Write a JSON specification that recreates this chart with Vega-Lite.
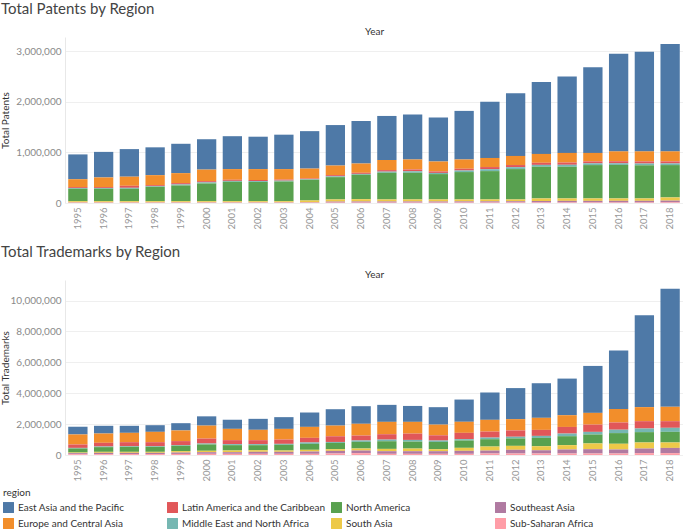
{
"$schema":"https://vega.github.io/schema/vega-lite/v6.json",
"padding":{"top":2,"left":0,"right":0,"bottom":0},
"background":"white",
"spacing":15,
"config":{
 "font":"Lato",
 "view":{"stroke":null},
 "axisX":{"domain":false,"ticks":false,"grid":false,"labelAngle":-90,"labelColor":"#999999","labelFontSize":9.5,"labelPadding":4,"titleFontSize":10,"titleFontWeight":"normal","titleColor":"#333333"},
 "axisY":{"domainColor":"#e8e8e8","ticks":false,"gridColor":"#efefef","labelColor":"#8a8a8a","labelFontSize":10,"labelPadding":4,"titleFontSize":10,"titleFontWeight":"normal","titleColor":"#333333","titleX":-55},
 "title":{"anchor":"start","frame":"group","fontSize":15,"fontWeight":"normal","color":"#444444","dx":-64,"offset":9},
 "legend":{"orient":"none","legendX":-62,"legendY":451,"direction":"horizontal","columns":4,"gridAlign":"all","columnPadding":5,"rowPadding":5,"symbolType":"square","symbolSize":120,"symbolStrokeWidth":0,"labelFontSize":10,"labelColor":"#333333","labelLimit":300,"titleFontSize":10,"titleFontWeight":"normal","titleColor":"#333333","titlePadding":4}
},
"datasets":{"d":[
{"year":"1995","region":"East Asia and the Pacific","patents":490000,"trademarks":500000},
{"year":"1995","region":"Europe and Central Asia","patents":156000,"trademarks":650000},
{"year":"1995","region":"Latin America and the Caribbean","patents":18000,"trademarks":220000},
{"year":"1995","region":"Middle East and North Africa","patents":15000,"trademarks":40000},
{"year":"1995","region":"North America","patents":246000,"trademarks":260000},
{"year":"1995","region":"South Asia","patents":23000,"trademarks":40000},
{"year":"1995","region":"Southeast Asia","patents":6000,"trademarks":70000},
{"year":"1995","region":"Sub-Saharan Africa","patents":6000,"trademarks":50000},
{"year":"1996","region":"East Asia and the Pacific","patents":505000,"trademarks":500000},
{"year":"1996","region":"Europe and Central Asia","patents":191000,"trademarks":600000},
{"year":"1996","region":"Latin America and the Caribbean","patents":18000,"trademarks":240000},
{"year":"1996","region":"Middle East and North Africa","patents":15000,"trademarks":40000},
{"year":"1996","region":"North America","patents":246000,"trademarks":305000},
{"year":"1996","region":"South Asia","patents":23000,"trademarks":65000},
{"year":"1996","region":"Southeast Asia","patents":6000,"trademarks":86000},
{"year":"1996","region":"Sub-Saharan Africa","patents":6000,"trademarks":54000},
{"year":"1997","region":"East Asia and the Pacific","patents":545000,"trademarks":455000},
{"year":"1997","region":"Europe and Central Asia","patents":180000,"trademarks":605000},
{"year":"1997","region":"Latin America and the Caribbean","patents":40000,"trademarks":260000},
{"year":"1997","region":"Middle East and North Africa","patents":19000,"trademarks":40000},
{"year":"1997","region":"North America","patents":246000,"trademarks":325000},
{"year":"1997","region":"South Asia","patents":23000,"trademarks":65000},
{"year":"1997","region":"Southeast Asia","patents":6000,"trademarks":80000},
{"year":"1997","region":"Sub-Saharan Africa","patents":6000,"trademarks":60000},
{"year":"1998","region":"East Asia and the Pacific","patents":550000,"trademarks":430000},
{"year":"1998","region":"Europe and Central Asia","patents":197000,"trademarks":670000},
{"year":"1998","region":"Latin America and the Caribbean","patents":20000,"trademarks":260000},
{"year":"1998","region":"Middle East and North Africa","patents":13000,"trademarks":40000},
{"year":"1998","region":"North America","patents":285000,"trademarks":325000},
{"year":"1998","region":"South Asia","patents":23000,"trademarks":65000},
{"year":"1998","region":"Southeast Asia","patents":6000,"trademarks":80000},
{"year":"1998","region":"Sub-Saharan Africa","patents":6000,"trademarks":60000},
{"year":"1999","region":"East Asia and the Pacific","patents":580000,"trademarks":470000},
{"year":"1999","region":"Europe and Central Asia","patents":197000,"trademarks":690000},
{"year":"1999","region":"Latin America and the Caribbean","patents":26000,"trademarks":260000},
{"year":"1999","region":"Middle East and North Africa","patents":20000,"trademarks":40000},
{"year":"1999","region":"North America","patents":312000,"trademarks":350000},
{"year":"1999","region":"South Asia","patents":22000,"trademarks":90000},
{"year":"1999","region":"Southeast Asia","patents":7000,"trademarks":90000},
{"year":"1999","region":"Sub-Saharan Africa","patents":6000,"trademarks":70000},
{"year":"2000","region":"East Asia and the Pacific","patents":600000,"trademarks":600000},
{"year":"2000","region":"Europe and Central Asia","patents":228000,"trademarks":840000},
{"year":"2000","region":"Latin America and the Caribbean","patents":24000,"trademarks":320000},
{"year":"2000","region":"Middle East and North Africa","patents":22000,"trademarks":60000},
{"year":"2000","region":"North America","patents":351000,"trademarks":410000},
{"year":"2000","region":"South Asia","patents":22000,"trademarks":90000},
{"year":"2000","region":"Southeast Asia","patents":7000,"trademarks":107000},
{"year":"2000","region":"Sub-Saharan Africa","patents":6000,"trademarks":76000},
{"year":"2001","region":"East Asia and the Pacific","patents":650000,"trademarks":590000},
{"year":"2001","region":"Europe and Central Asia","patents":211000,"trademarks":730000},
{"year":"2001","region":"Latin America and the Caribbean","patents":22000,"trademarks":260000},
{"year":"2001","region":"Middle East and North Africa","patents":18000,"trademarks":65000},
{"year":"2001","region":"North America","patents":384000,"trademarks":345000},
{"year":"2001","region":"South Asia","patents":22000,"trademarks":110000},
{"year":"2001","region":"Southeast Asia","patents":7000,"trademarks":107000},
{"year":"2001","region":"Sub-Saharan Africa","patents":6000,"trademarks":76000},
{"year":"2002","region":"East Asia and the Pacific","patents":640000,"trademarks":710000},
{"year":"2002","region":"Europe and Central Asia","patents":215000,"trademarks":670000},
{"year":"2002","region":"Latin America and the Caribbean","patents":22000,"trademarks":260000},
{"year":"2002","region":"Middle East and North Africa","patents":18000,"trademarks":65000},
{"year":"2002","region":"North America","patents":380000,"trademarks":325000},
{"year":"2002","region":"South Asia","patents":22000,"trademarks":105000},
{"year":"2002","region":"Southeast Asia","patents":7000,"trademarks":130000},
{"year":"2002","region":"Sub-Saharan Africa","patents":6000,"trademarks":76000},
{"year":"2003","region":"East Asia and the Pacific","patents":680000,"trademarks":760000},
{"year":"2003","region":"Europe and Central Asia","patents":207000,"trademarks":690000},
{"year":"2003","region":"Latin America and the Caribbean","patents":21000,"trademarks":280000},
{"year":"2003","region":"Middle East and North Africa","patents":17000,"trademarks":60000},
{"year":"2003","region":"North America","patents":390000,"trademarks":370000},
{"year":"2003","region":"South Asia","patents":22000,"trademarks":85000},
{"year":"2003","region":"Southeast Asia","patents":7000,"trademarks":130000},
{"year":"2003","region":"Sub-Saharan Africa","patents":6000,"trademarks":76000},
{"year":"2004","region":"East Asia and the Pacific","patents":740000,"trademarks":930000},
{"year":"2004","region":"Europe and Central Asia","patents":195000,"trademarks":710000},
{"year":"2004","region":"Latin America and the Caribbean","patents":14000,"trademarks":300000},
{"year":"2004","region":"Middle East and North Africa","patents":12000,"trademarks":90000},
{"year":"2004","region":"North America","patents":409000,"trademarks":385000},
{"year":"2004","region":"South Asia","patents":36000,"trademarks":110000},
{"year":"2004","region":"Southeast Asia","patents":8000,"trademarks":150000},
{"year":"2004","region":"Sub-Saharan Africa","patents":6000,"trademarks":76000},
{"year":"2005","region":"East Asia and the Pacific","patents":800000,"trademarks":1060000},
{"year":"2005","region":"Europe and Central Asia","patents":189000,"trademarks":690000},
{"year":"2005","region":"Latin America and the Caribbean","patents":24000,"trademarks":370000},
{"year":"2005","region":"Middle East and North Africa","patents":16000,"trademarks":60000},
{"year":"2005","region":"North America","patents":441000,"trademarks":410000},
{"year":"2005","region":"South Asia","patents":42000,"trademarks":107000},
{"year":"2005","region":"Southeast Asia","patents":20000,"trademarks":170000},
{"year":"2005","region":"Sub-Saharan Africa","patents":8000,"trademarks":97000},
{"year":"2006","region":"East Asia and the Pacific","patents":840000,"trademarks":1140000},
{"year":"2006","region":"Europe and Central Asia","patents":183000,"trademarks":760000},
{"year":"2006","region":"Latin America and the Caribbean","patents":22000,"trademarks":320000},
{"year":"2006","region":"Middle East and North Africa","patents":17000,"trademarks":90000},
{"year":"2006","region":"North America","patents":483000,"trademarks":430000},
{"year":"2006","region":"South Asia","patents":45000,"trademarks":130000},
{"year":"2006","region":"Southeast Asia","patents":22000,"trademarks":170000},
{"year":"2006","region":"Sub-Saharan Africa","patents":8000,"trademarks":120000},
{"year":"2007","region":"East Asia and the Pacific","patents":870000,"trademarks":1100000},
{"year":"2007","region":"Europe and Central Asia","patents":200000,"trademarks":800000},
{"year":"2007","region":"Latin America and the Caribbean","patents":30000,"trademarks":350000},
{"year":"2007","region":"Middle East and North Africa","patents":23000,"trademarks":105000},
{"year":"2007","region":"North America","patents":527000,"trademarks":495000},
{"year":"2007","region":"South Asia","patents":40000,"trademarks":150000},
{"year":"2007","region":"Southeast Asia","patents":22000,"trademarks":170000},
{"year":"2007","region":"Sub-Saharan Africa","patents":8000,"trademarks":76000},
{"year":"2008","region":"East Asia and the Pacific","patents":890000,"trademarks":1030000},
{"year":"2008","region":"Europe and Central Asia","patents":197000,"trademarks":760000},
{"year":"2008","region":"Latin America and the Caribbean","patents":36000,"trademarks":410000},
{"year":"2008","region":"Middle East and North Africa","patents":30000,"trademarks":110000},
{"year":"2008","region":"North America","patents":527000,"trademarks":450000},
{"year":"2008","region":"South Asia","patents":40000,"trademarks":170000},
{"year":"2008","region":"Southeast Asia","patents":22000,"trademarks":170000},
{"year":"2008","region":"Sub-Saharan Africa","patents":8000,"trademarks":76000},
{"year":"2009","region":"East Asia and the Pacific","patents":870000,"trademarks":1130000},
{"year":"2009","region":"Europe and Central Asia","patents":196000,"trademarks":690000},
{"year":"2009","region":"Latin America and the Caribbean","patents":30000,"trademarks":340000},
{"year":"2009","region":"Middle East and North Africa","patents":23000,"trademarks":90000},
{"year":"2009","region":"North America","patents":501000,"trademarks":470000},
{"year":"2009","region":"South Asia","patents":40000,"trademarks":130000},
{"year":"2009","region":"Southeast Asia","patents":22000,"trademarks":170000},
{"year":"2009","region":"Sub-Saharan Africa","patents":8000,"trademarks":76000},
{"year":"2010","region":"East Asia and the Pacific","patents":960000,"trademarks":1440000},
{"year":"2010","region":"Europe and Central Asia","patents":183000,"trademarks":715000},
{"year":"2010","region":"Latin America and the Caribbean","patents":35000,"trademarks":410000},
{"year":"2010","region":"Middle East and North Africa","patents":31000,"trademarks":85000},
{"year":"2010","region":"North America","patents":541000,"trademarks":476000},
{"year":"2010","region":"South Asia","patents":38000,"trademarks":194000},
{"year":"2010","region":"Southeast Asia","patents":23000,"trademarks":194000},
{"year":"2010","region":"Sub-Saharan Africa","patents":9000,"trademarks":76000},
{"year":"2011","region":"East Asia and the Pacific","patents":1110000,"trademarks":1770000},
{"year":"2011","region":"Europe and Central Asia","patents":180000,"trademarks":760000},
{"year":"2011","region":"Latin America and the Caribbean","patents":42000,"trademarks":390000},
{"year":"2011","region":"Middle East and North Africa","patents":38000,"trademarks":105000},
{"year":"2011","region":"North America","patents":560000,"trademarks":475000},
{"year":"2011","region":"South Asia","patents":37000,"trademarks":260000},
{"year":"2011","region":"Southeast Asia","patents":24000,"trademarks":190000},
{"year":"2011","region":"Sub-Saharan Africa","patents":9000,"trademarks":97000},
{"year":"2012","region":"East Asia and the Pacific","patents":1240000,"trademarks":2010000},
{"year":"2012","region":"Europe and Central Asia","patents":180000,"trademarks":730000},
{"year":"2012","region":"Latin America and the Caribbean","patents":42000,"trademarks":410000},
{"year":"2012","region":"Middle East and North Africa","patents":38000,"trademarks":110000},
{"year":"2012","region":"North America","patents":600000,"trademarks":480000},
{"year":"2012","region":"South Asia","patents":35000,"trademarks":255000},
{"year":"2012","region":"Southeast Asia","patents":25000,"trademarks":240000},
{"year":"2012","region":"Sub-Saharan Africa","patents":10000,"trademarks":97000},
{"year":"2013","region":"East Asia and the Pacific","patents":1420000,"trademarks":2240000},
{"year":"2013","region":"Europe and Central Asia","patents":175000,"trademarks":780000},
{"year":"2013","region":"Latin America and the Caribbean","patents":42000,"trademarks":390000},
{"year":"2013","region":"Middle East and North Africa","patents":37000,"trademarks":130000},
{"year":"2013","region":"North America","patents":626000,"trademarks":540000},
{"year":"2013","region":"South Asia","patents":50000,"trademarks":260000},
{"year":"2013","region":"Southeast Asia","patents":30000,"trademarks":210000},
{"year":"2013","region":"Sub-Saharan Africa","patents":10000,"trademarks":97000},
{"year":"2014","region":"East Asia and the Pacific","patents":1510000,"trademarks":2370000},
{"year":"2014","region":"Europe and Central Asia","patents":190000,"trademarks":760000},
{"year":"2014","region":"Latin America and the Caribbean","patents":45000,"trademarks":430000},
{"year":"2014","region":"Middle East and North Africa","patents":39000,"trademarks":170000},
{"year":"2014","region":"North America","patents":626000,"trademarks":580000},
{"year":"2014","region":"South Asia","patents":48000,"trademarks":280000},
{"year":"2014","region":"Southeast Asia","patents":32000,"trademarks":260000},
{"year":"2014","region":"Sub-Saharan Africa","patents":10000,"trademarks":97000},
{"year":"2015","region":"East Asia and the Pacific","patents":1690000,"trademarks":3040000},
{"year":"2015","region":"Europe and Central Asia","patents":168000,"trademarks":760000},
{"year":"2015","region":"Latin America and the Caribbean","patents":38000,"trademarks":470000},
{"year":"2015","region":"Middle East and North Africa","patents":35000,"trademarks":170000},
{"year":"2015","region":"North America","patents":659000,"trademarks":580000},
{"year":"2015","region":"South Asia","patents":48000,"trademarks":370000},
{"year":"2015","region":"Southeast Asia","patents":32000,"trademarks":280000},
{"year":"2015","region":"Sub-Saharan Africa","patents":10000,"trademarks":97000},
{"year":"2016","region":"East Asia and the Pacific","patents":1930000,"trademarks":3790000},
{"year":"2016","region":"Europe and Central Asia","patents":195000,"trademarks":870000},
{"year":"2016","region":"Latin America and the Caribbean","patents":40000,"trademarks":470000},
{"year":"2016","region":"Middle East and North Africa","patents":33000,"trademarks":220000},
{"year":"2016","region":"North America","patents":662000,"trademarks":690000},
{"year":"2016","region":"South Asia","patents":47000,"trademarks":370000},
{"year":"2016","region":"Southeast Asia","patents":33000,"trademarks":260000},
{"year":"2016","region":"Sub-Saharan Africa","patents":10000,"trademarks":97000},
{"year":"2017","region":"East Asia and the Pacific","patents":1970000,"trademarks":5950000},
{"year":"2017","region":"Europe and Central Asia","patents":198000,"trademarks":910000},
{"year":"2017","region":"Latin America and the Caribbean","patents":42000,"trademarks":475000},
{"year":"2017","region":"Middle East and North Africa","patents":35000,"trademarks":235000},
{"year":"2017","region":"North America","patents":655000,"trademarks":670000},
{"year":"2017","region":"South Asia","patents":47000,"trademarks":390000},
{"year":"2017","region":"Southeast Asia","patents":33000,"trademarks":300000},
{"year":"2017","region":"Sub-Saharan Africa","patents":10000,"trademarks":120000},
{"year":"2018","region":"East Asia and the Pacific","patents":2120000,"trademarks":7640000},
{"year":"2018","region":"Europe and Central Asia","patents":198000,"trademarks":930000},
{"year":"2018","region":"Latin America and the Caribbean","patents":40000,"trademarks":430000},
{"year":"2018","region":"Middle East and North Africa","patents":33000,"trademarks":260000},
{"year":"2018","region":"North America","patents":639000,"trademarks":690000},
{"year":"2018","region":"South Asia","patents":63000,"trademarks":350000},
{"year":"2018","region":"Southeast Asia","patents":35000,"trademarks":340000},
{"year":"2018","region":"Sub-Saharan Africa","patents":12000,"trademarks":120000}
]},
"vconcat":[
{
 "data":{"name":"d"},
 "title":{"text":"Total Patents by Region"},
 "width":618,"height":166,
 "mark":{"type":"bar"},
 "encoding":{
  "x":{"field":"year","type":"ordinal","scale":{"paddingInner":0.25,"paddingOuter":0.125},"axis":{"title":"Year","titleY":-177}},
  "y":{"field":"patents","type":"quantitative","scale":{"domain":[0,3280000],"nice":false},"axis":{"title":"Total Patents","format":",d","values":[0,1000000,2000000,3000000]}},
  "color":{"field":"region","type":"nominal","title":"region","scale":{"domain":["East Asia and the Pacific","Latin America and the Caribbean","North America","Southeast Asia","Europe and Central Asia","Middle East and North Africa","South Asia","Sub-Saharan Africa"],"range":["#4e79a7","#e15759","#59a14f","#b07aa1","#f28e2b","#76b7b2","#edc948","#ff9da7"]}},
  "order":{"field":"region","type":"ordinal","sort":"descending"}
 }
},
{
 "data":{"name":"d"},
 "title":{"text":"Total Trademarks by Region"},
 "width":618,"height":175,
 "mark":{"type":"bar"},
 "encoding":{
  "x":{"field":"year","type":"ordinal","scale":{"paddingInner":0.25,"paddingOuter":0.125},"axis":{"title":"Year","titleY":-186}},
  "y":{"field":"trademarks","type":"quantitative","scale":{"domain":[0,11330000],"nice":false},"axis":{"title":"Total Trademarks","format":",d","values":[0,2000000,4000000,6000000,8000000,10000000]}},
  "color":{"field":"region","type":"nominal","title":"region","scale":{"domain":["East Asia and the Pacific","Latin America and the Caribbean","North America","Southeast Asia","Europe and Central Asia","Middle East and North Africa","South Asia","Sub-Saharan Africa"],"range":["#4e79a7","#e15759","#59a14f","#b07aa1","#f28e2b","#76b7b2","#edc948","#ff9da7"]}},
  "order":{"field":"region","type":"ordinal","sort":"descending"}
 }
}
]
}
